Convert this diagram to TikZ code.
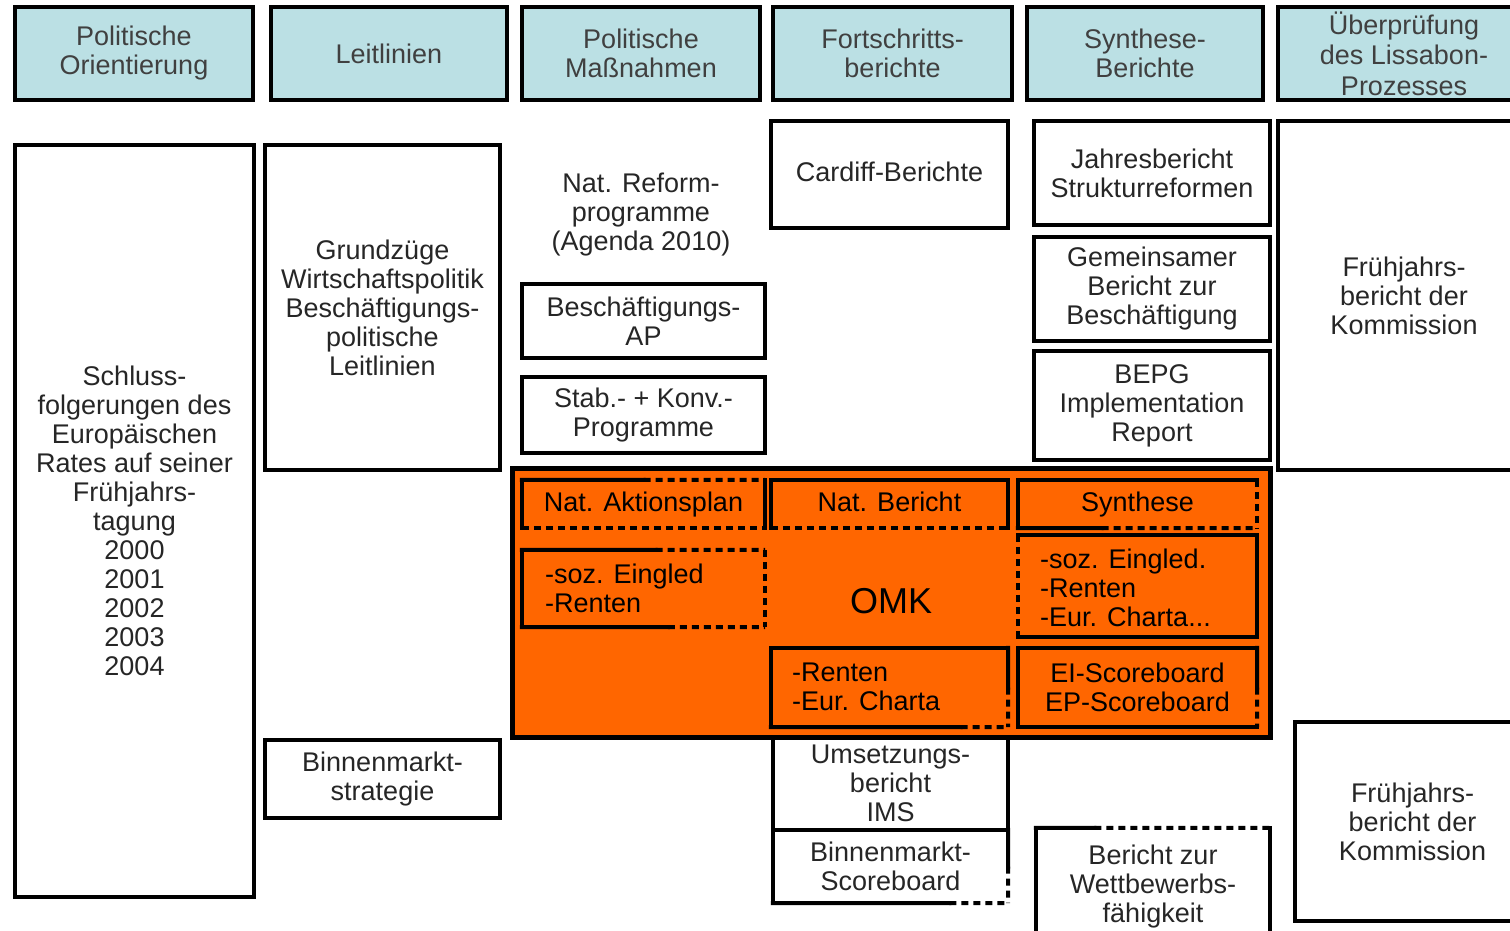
\documentclass[tikz,border=0pt]{standalone}
\usepackage{fontspec}
\setmainfont{Liberation Sans}
\usetikzlibrary{calc}
\definecolor{hdr}{RGB}{187,224,228}
\definecolor{omk}{RGB}{255,102,0}
\newcommand\bodyfs{\fontsize{27}{29}\selectfont}
\newcommand\omkfs{\fontsize{36}{40}\selectfont}
\begin{document}
\begin{tikzpicture}[x=1pt,y=-1pt,
  bx/.style 2 args={rectangle, inner sep=0pt, minimum width=#1pt, minimum height=#2pt, align=center, font=\bodyfs, text=black!85},
  framed/.style={draw=black, line width=4.5pt},
  hdrbox/.style={framed, fill=hdr},
  txt/.style={inner sep=0pt, align=center, font=\bodyfs, text=black!85},
  ltxt/.style={inner sep=0pt, align=left, anchor=west, font=\bodyfs, text=black},
  sd/.style={draw=black, line width=4pt, line cap=rect},
  dd/.style={draw=black, line width=4pt, dash pattern=on 7pt off 5pt},
  one/.style={text height=19pt, text depth=5pt},
]
\useasboundingbox (0,0) rectangle (1510,930);
\fill[white] (0,0) rectangle (1510,930);

% headers
\node[bx={238}{93}, hdrbox, text=black!75] (h1) at (134,53.5) {Politische\\Orientierung};
\node[bx={236}{93}, hdrbox, text=black!75] (h2) at (389,53.5) {Leitlinien};
\node[bx={238}{93}, hdrbox, text=black!75] (h3) at (641,53.5) {Politische\\Maßnahmen};
\node[bx={239}{93}, hdrbox, text=black!75] (h4) at (892.5,53.5) {Fortschritts-\\berichte};
\node[bx={236}{93}, hdrbox, text=black!75] (h5) at (1145,53.5) {Synthese-\\Berichte};
\node[bx={252}{93}, hdrbox, text=black!75, font=\fontsize{27}{30.5}\selectfont] (h6) at (1404,53.5) {Überprüfung\\des Lissabon-\\Prozesses};

% column 1 and 2
\node[bx={239}{752}, framed] (schluss) at (134.5,521) {Schluss-\\folgerungen des\\Europäischen\\Rates auf seiner\\Frühjahrs-\\tagung\\2000\\2001\\2002\\2003\\2004};
\node[bx={235}{325}, framed] (grund) at (382.5,307.5) {Grundzüge\\Wirtschaftspolitik\\Beschäftigungs-\\politische\\Leitlinien};
\node[bx={235}{78}, framed] (bstrat) at (382.5,779) {Binnenmarkt-\\strategie};

% column 3
\node[txt] (reform) at (641,215) {Nat. Reform-\\programme\\(Agenda 2010)};
\node[bx={243}{74}, framed] (bap) at (643.5,321) {Beschäftigungs-\\AP};
\node[bx={243}{76}, framed] (stab) at (643.5,415) {Stab.- + Konv.-\\Programme};

% column 4
\node[bx={237}{107}, framed, one] (cardiff) at (889.5,174.5) {Cardiff-Berichte};

% column 5
\node[bx={236}{104}, framed] (jahr) at (1152,173) {Jahresbericht\\Strukturreformen};
\node[bx={236}{104}, framed] (gemein) at (1152,289) {Gemeinsamer\\Bericht zur\\Beschäftigung};
\node[bx={236}{109}, framed] (bepg) at (1152,405.5) {BEPG\\Implementation\\Report};

% column 6
\node[bx={252}{349}, framed] (fr1) at (1404,295.5) {Frühjahrs-\\bericht der\\Kommission};
\node[bx={235}{199}, framed] (fr2) at (1412.5,821.5) {Frühjahrs-\\bericht der\\Kommission};

% orange OMK block
\node[bx={758}{269}, draw=black, line width=5pt, fill=omk] (omkblock) at (891,602.5) {};
\node[inner sep=0pt, font=\omkfs, text=black] (omk) at (891,601) {OMK};

\node[bx={243}{48}, text=black, one] (natap) at (643.5,504) {Nat. Aktionsplan};
\draw[sd] (natap.north west) -- ($(natap.north west)!0.5!(natap.north east)$);
\draw[dd] ($(natap.north west)!0.5!(natap.north east)$) -- (natap.north east);
\draw[sd] (natap.north west) -- (natap.south west);
\draw[sd] (natap.north east) -- (natap.south east);
\draw[dd] (natap.south west) -- (natap.south east);

\node[bx={237}{48}, text=black, one] (natber) at (889.5,504) {Nat. Bericht};
\draw[sd] (natber.north west) -- (natber.north east);
\draw[sd] (natber.north west) -- (natber.south west);
\draw[sd] (natber.north east) -- (natber.south east);
\draw[dd] (natber.south west) -- (natber.south east);

\node[bx={239}{48}, text=black, one] (synth) at (1137.5,504) {Synthese};
\draw[sd] (synth.north west) -- (synth.north east);
\draw[sd] (synth.north west) -- (synth.south west);
\draw[dd] (synth.north east) -- (synth.south east);
\draw[sd] (synth.south west) -- ($(synth.south west)!0.35!(synth.south east)$);
\draw[dd] ($(synth.south west)!0.35!(synth.south east)$) -- (synth.south east);

\node[bx={243}{77}] (sozl) at (643.5,588.5) {};
\node[ltxt] (sozltxt) at (545,588.5) {-soz. Eingled\\-Renten};
\draw[sd] (sozl.north west) -- ($(sozl.north west)!0.55!(sozl.north east)$);
\draw[dd] ($(sozl.north west)!0.55!(sozl.north east)$) -- (sozl.north east);
\draw[sd] (sozl.north west) -- (sozl.south west);
\draw[dd] (sozl.north east) -- (sozl.south east);
\draw[sd] (sozl.south west) -- ($(sozl.south west)!0.6!(sozl.south east)$);
\draw[dd] ($(sozl.south west)!0.6!(sozl.south east)$) -- (sozl.south east);

\node[bx={239}{102}] (sozr) at (1137.5,586) {};
\node[ltxt] (sozrtxt) at (1040,587.5) {-soz. Eingled.\\-Renten\\-Eur. Charta...};
\draw[sd] (sozr.north west) -- (sozr.north east);
\draw[dd] (sozr.north west) -- (sozr.south west);
\draw[sd] (sozr.north east) -- (sozr.south east);
\draw[sd] (sozr.south west) -- (sozr.south east);

\node[bx={237}{79}] (rentm) at (889.5,687.5) {};
\node[ltxt] (rentmtxt) at (792,686.5) {-Renten\\-Eur. Charta};
\draw[sd] (rentm.north west) -- (rentm.north east);
\draw[sd] (rentm.north west) -- (rentm.south west);
\draw[sd] (rentm.south west) -- ($(rentm.south west)!0.8!(rentm.south east)$);
\draw[dd] ($(rentm.south west)!0.8!(rentm.south east)$) -- (rentm.south east);
\draw[sd] (rentm.north east) -- ($(rentm.north east)!0.5!(rentm.south east)$);
\draw[dd] ($(rentm.north east)!0.5!(rentm.south east)$) -- (rentm.south east);

\node[bx={239}{79}, text=black] (ei) at (1137.5,687.5) {EI-Scoreboard\\EP-Scoreboard};
\draw[sd] (ei.north west) -- (ei.north east);
\draw[sd] (ei.north west) -- (ei.south west);
\draw[sd] (ei.south west) -- (ei.south east);
\draw[sd] (ei.north east) -- ($(ei.north east)!0.5!(ei.south east)$);
\draw[dd] ($(ei.north east)!0.5!(ei.south east)$) -- (ei.south east);

% below the OMK block
\node[bx={235}{93}] (umsetz) at (890.5,783.5) {Umsetzungs-\\bericht\\IMS};
\draw[sd] (umsetz.north west) -- (umsetz.south west);
\draw[sd] (umsetz.north east) -- (umsetz.south east);
\draw[sd] (umsetz.south west) -- (umsetz.south east);

\node[bx={235}{73}] (bsc) at (890.5,866.5) {Binnenmarkt-\\Scoreboard};
\draw[sd] (bsc.north west) -- (bsc.south west);
\draw[sd] (bsc.south west) -- ($(bsc.south west)!0.75!(bsc.south east)$);
\draw[dd] ($(bsc.south west)!0.75!(bsc.south east)$) -- (bsc.south east);
\draw[sd] (bsc.north east) -- ($(bsc.north east)!0.5!(bsc.south east)$);
\draw[dd] ($(bsc.north east)!0.5!(bsc.south east)$) -- (bsc.south east);

\node[bx={234}{117}] (wett) at (1153,886.5) {Bericht zur\\Wettbewerbs-\\fähigkeit};
\draw[sd] (wett.north west) -- ($(wett.north west)!0.25!(wett.north east)$);
\draw[dd] ($(wett.north west)!0.25!(wett.north east)$) -- (wett.north east);
\draw[sd] (wett.north west) -- (wett.south west);
\draw[sd] (wett.north east) -- (wett.south east);
\end{tikzpicture}
\end{document}
